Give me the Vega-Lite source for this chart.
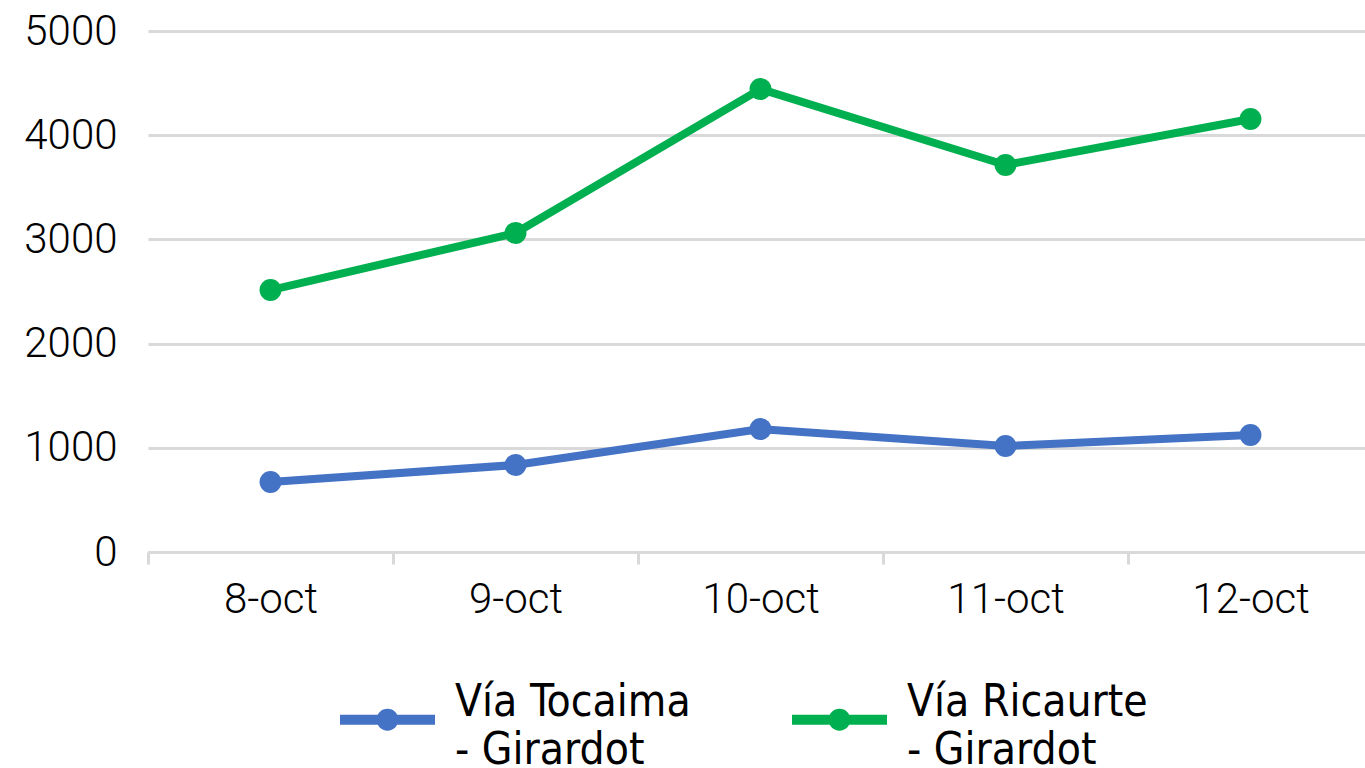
{
  "$schema": "https://vega.github.io/schema/vega-lite/v6.json",
  "width": 1217,
  "height": 521,
  "autosize": {"type": "none"},
  "padding": {"left": 148, "top": 31, "right": 0, "bottom": 216},
  "background": "white",
  "config": {
    "view": {"stroke": null},
    "font": "Roboto",
    "axis": {"labelFont": "Roboto", "labelFontWeight": 300, "labelFontSize": 42, "labelColor": "#000000", "title": null}
  },
  "data": {
    "values": [
      {"day": "8-oct", "series": "Vía Tocaima - Girardot", "value": 672},
      {"day": "9-oct", "series": "Vía Tocaima - Girardot", "value": 835},
      {"day": "10-oct", "series": "Vía Tocaima - Girardot", "value": 1180},
      {"day": "11-oct", "series": "Vía Tocaima - Girardot", "value": 1017},
      {"day": "12-oct", "series": "Vía Tocaima - Girardot", "value": 1123},
      {"day": "8-oct", "series": "Vía Ricaurte - Girardot", "value": 2514},
      {"day": "9-oct", "series": "Vía Ricaurte - Girardot", "value": 3061},
      {"day": "10-oct", "series": "Vía Ricaurte - Girardot", "value": 4443},
      {"day": "11-oct", "series": "Vía Ricaurte - Girardot", "value": 3714},
      {"day": "12-oct", "series": "Vía Ricaurte - Girardot", "value": 4155}
    ]
  },
  "mark": {"type": "line", "strokeWidth": 8, "point": {"filled": true, "size": 480, "opacity": 1}},
  "encoding": {
    "x": {
      "field": "day",
      "type": "nominal",
      "sort": ["8-oct", "9-oct", "10-oct", "11-oct", "12-oct"],
      "scale": {"range": [0, 1225], "paddingInner": 0, "paddingOuter": 0},
      "axis": {
        "labelAngle": 0,
        "tickBand": "extent",
        "ticks": true,
        "tickSize": 12,
        "tickWidth": 3,
        "tickColor": "#D9D9D9",
        "domainColor": "#D9D9D9",
        "domainWidth": 3,
        "labelPadding": 15,
        "grid": false
      }
    },
    "y": {
      "field": "value",
      "type": "quantitative",
      "scale": {"domain": [0, 5000], "nice": false},
      "axis": {
        "values": [0, 1000, 2000, 3000, 4000, 5000],
        "format": "d",
        "domain": false,
        "ticks": false,
        "labelPadding": 31,
        "gridColor": "#D9D9D9",
        "gridWidth": 3
      }
    },
    "color": {
      "field": "series",
      "type": "nominal",
      "scale": {"domain": ["Vía Tocaima - Girardot", "Vía Ricaurte - Girardot"], "range": ["#4472C4", "#00B050"]},
      "legend": {
        "title": null,
        "orient": "none",
        "legendX": 192,
        "legendY": 641,
        "direction": "horizontal",
        "symbolType": "M-1,-0.105H1V0.105H-1Z M0.23,0A0.23,0.23 0 1,1 -0.23,0A0.23,0.23 0 1,1 0.23,0Z",
        "symbolSize": 9025,
        "symbolStrokeWidth": 0,
        "labelFont": "Liberation Sans Narrow, DejaVu Sans Condensed, sans-serif",
        "labelFontSize": 44,
        "labelColor": "#000000",
        "labelOffset": 20,
        "labelLimit": 400,
        "columnPadding": 101,
        "labelExpr": "[replace(datum.label, ' - Girardot', ''), '- Girardot']",
        "encode": {
          "symbols": {"update": {"fill": {"scale": "color", "field": "value"}, "strokeWidth": {"value": 0}, "opacity": {"value": 1}}},
          "labels": {"update": {"lineHeight": {"value": 48}, "dy": {"value": -17}}}
        }
      }
    }
  }
}
